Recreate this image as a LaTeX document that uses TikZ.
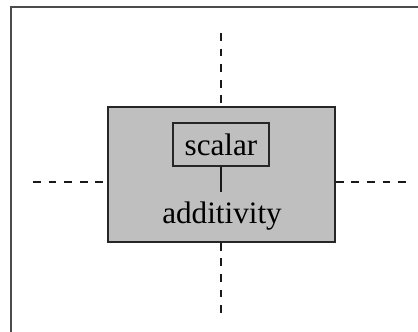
\documentclass[tikz,border=0pt]{standalone}
\usepackage{fontspec}
\setmainfont{Liberation Serif}
\begin{document}
\begin{tikzpicture}[x=0.385pt,y=-0.385pt,
  frame/.style={draw=black!70,line width=0.5pt},
  graybox/.style={draw=black!85,fill=black!25,line width=0.6pt,inner sep=0pt,
    minimum width=87.4pt,minimum height=52pt},
  labelbox/.style={draw=black!85,fill=black!25,line width=0.5pt,inner sep=0pt,
    minimum width=37pt,minimum height=16.6pt,font=\fontsize{12}{14}\selectfont},
  plainlabel/.style={inner sep=0pt,inner ysep=3.9pt,text height=8pt,text depth=2pt,
    font=\fontsize{12}{14}\selectfont},
  guide/.style={dashed,line width=0.6pt,black!90},
  link/.style={line width=0.8pt,black!90}]
\useasboundingbox (0,0) rectangle (418,331);
\clip (0,0) rectangle (418,331);
\draw[frame] (11,7) rectangle (440,360);
\node[graybox] (outer) at (221.5,174.5) {};
\node[labelbox] (scalar) at (221,144.5) {scalar};
\node[plainlabel,anchor=base] (add) at (222,223) {additivity};
\draw[link] (scalar.south) -- (scalar.south |- add.north);
\coordinate (top) at (221,33);
\coordinate (bottom) at (221,316);
\coordinate (left) at (33,182);
\coordinate (right) at (409,182);
\draw[guide] (top) -- (outer.north -| top);
\draw[guide] (outer.south -| bottom) -- (bottom);
\draw[guide] (left) -- (outer.west |- left);
\draw[guide] (outer.east |- right) -- (right);
\end{tikzpicture}
\end{document}
